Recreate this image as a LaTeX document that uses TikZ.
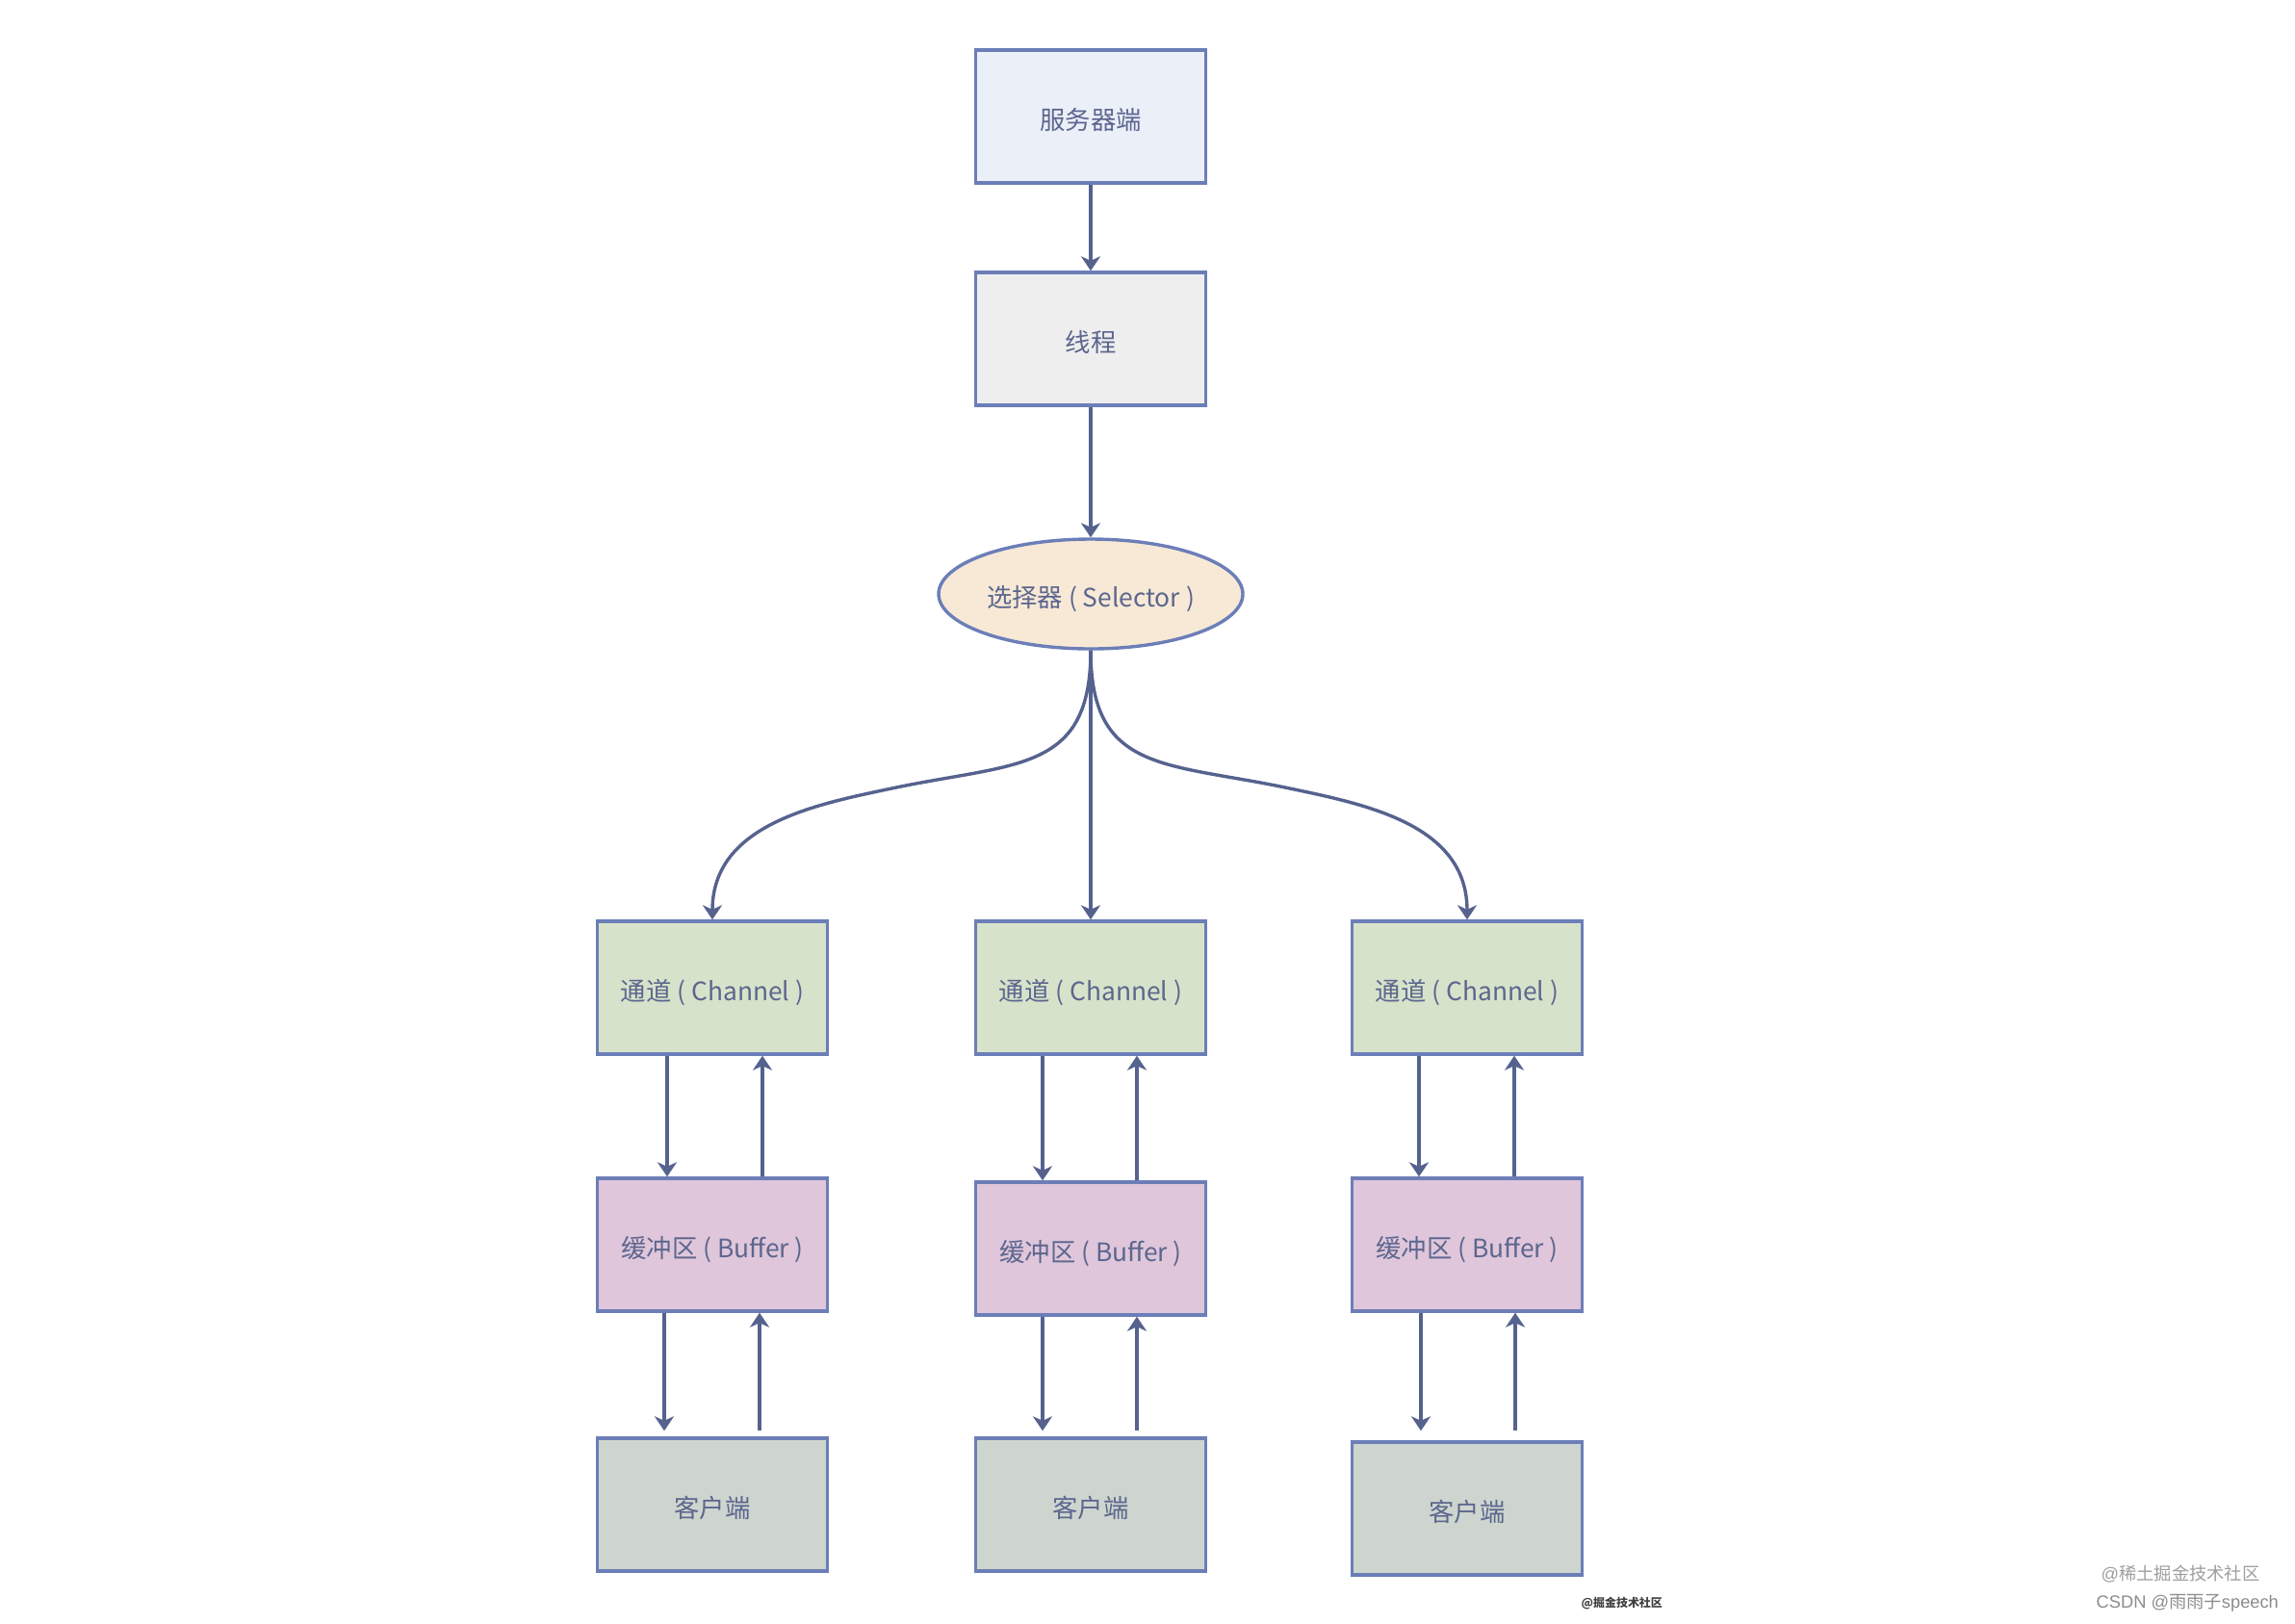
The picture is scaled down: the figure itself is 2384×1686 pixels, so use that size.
\documentclass[tikz,border=0pt]{standalone}
\usepackage{fontspec}
\setmainfont{Noto Sans CJK SC}
\newfontfamily\latinfont{Liberation Sans}
\usetikzlibrary{arrows.meta}
\usetikzlibrary{shapes.geometric}

\definecolor{edgeblue}{RGB}{108,126,184}
\definecolor{linkblue}{RGB}{86,98,142}
\definecolor{textblue}{RGB}{92,102,142}
\definecolor{servfill}{RGB}{235,239,248}
\definecolor{threadfill}{RGB}{238,238,238}
\definecolor{selfill}{RGB}{247,233,214}
\definecolor{chanfill}{RGB}{214,227,202}
\definecolor{buffill}{RGB}{223,198,218}
\definecolor{clifill}{RGB}{205,213,206}

\begin{document}
\begin{tikzpicture}%
	[x=0.1mm, y=-0.1mm,
	box/.style={draw=edgeblue, line width=0.34mm, minimum width=23.9mm, minimum height=13.8mm, inner sep=0pt, text height=2.9mm, text depth=0.3mm, text=textblue, font=\fontsize{7.5}{9}\selectfont},
	oval/.style={box, ellipse, minimum width=31.6mm, minimum height=11.4mm},
	link/.style={draw=linkblue, line width=0.34mm, -{Stealth[length=1.5mm, width=2mm, inset=0.45mm]}},
	watermark/.style={inner sep=0pt, anchor=west}]
%
%% Page
%%
\path[use as bounding box, fill=white] (0,0) rectangle (2384,1686);
%%
%% Top of the chain
%%
\node[box, fill=servfill] (serv) at (1133,121) {服务器端};
\node[box, fill=threadfill] (thread) at (1133,352) {线程};
\node[oval, fill=selfill] (sel) at (1133,617) {选择器 ( Selector )};
%%
%% Channels
%%
\node[box, fill=chanfill] (chL) at (740,1026) {通道 ( Channel )};
\node[box, fill=chanfill] (chM) at (1133,1026) {通道 ( Channel )};
\node[box, fill=chanfill] (chR) at (1524,1026) {通道 ( Channel )};
%%
%% Buffers
%%
\node[box, fill=buffill] (bufL) at (740,1293) {缓冲区 ( Buffer )};
\node[box, fill=buffill] (bufM) at (1133,1297) {缓冲区 ( Buffer )};
\node[box, fill=buffill] (bufR) at (1524,1293) {缓冲区 ( Buffer )};
%%
%% Clients
%%
\node[box, fill=clifill] (cliL) at (740,1563) {客户端};
\node[box, fill=clifill] (cliM) at (1133,1563) {客户端};
\node[box, fill=clifill] (cliR) at (1524,1567) {客户端};
%%
%% Links from the server to the selector
%%
\draw[link] (serv) -- (thread);
\draw[link] (thread) -- (sel);
%%
%% Links from the selector to the channels
%%
\coordinate (bendL) at (931,818);
\coordinate (bendR) at (1335,818);
\draw[link] (sel.south) .. controls +(0,126) and +(126,-26) .. (bendL) .. controls +(-81,17) and +(0,-100) .. (chL.north);
\draw[link] (sel.south) -- (chM.north);
\draw[link] (sel.south) .. controls +(0,126) and +(-126,-26) .. (bendR) .. controls +(81,17) and +(0,-100) .. (chR.north);
%%
%% Channels and buffers
%%
\draw[link] ([xshift=-4.7mm]chL.south) -- ([xshift=-4.7mm]bufL.north);
\draw[link] ([xshift=5.2mm]bufL.north) -- ([xshift=5.2mm]chL.south);
\draw[link] ([xshift=-5mm]chM.south) -- ([xshift=-5mm]bufM.north);
\draw[link] ([xshift=4.8mm]bufM.north) -- ([xshift=4.8mm]chM.south);
\draw[link] ([xshift=-5mm]chR.south) -- ([xshift=-5mm]bufR.north);
\draw[link] ([xshift=4.9mm]bufR.north) -- ([xshift=4.9mm]chR.south);
%%
%% Buffers and clients
%%
\draw[link] ([xshift=-5mm]bufL.south) -- ([xshift=-5mm,yshift=0.6mm]cliL.north);
\draw[link] ([xshift=4.9mm,yshift=0.6mm]cliL.north) -- ([xshift=4.9mm]bufL.south);
\draw[link] ([xshift=-5mm]bufM.south) -- ([xshift=-5mm,yshift=0.6mm]cliM.north);
\draw[link] ([xshift=4.8mm,yshift=0.6mm]cliM.north) -- ([xshift=4.8mm]bufM.south);
\draw[link] ([xshift=-4.8mm]bufR.south) -- ([xshift=-4.8mm,yshift=1mm]cliR.north);
\draw[link] ([xshift=5mm,yshift=1mm]cliR.north) -- ([xshift=5mm]bufR.south);
%%
%% Watermarks
%%
\node[watermark, text=black!38, font=\fontsize{5.2}{6}\selectfont] (wmA) at (2182,1635) {{\latinfont @}稀土掘金技术社区};
\node[watermark, text=black!45, font=\fontsize{5.2}{6}\selectfont] (wmB) at (2177,1665) {{\latinfont CSDN @}雨雨子{\latinfont speech}};
\node[watermark, text=black!75, font=\fontsize{3.4}{4}\selectfont\bfseries] (wmC) at (1642,1665) {@掘金技术社区};
%%
\end{tikzpicture}
\end{document}
